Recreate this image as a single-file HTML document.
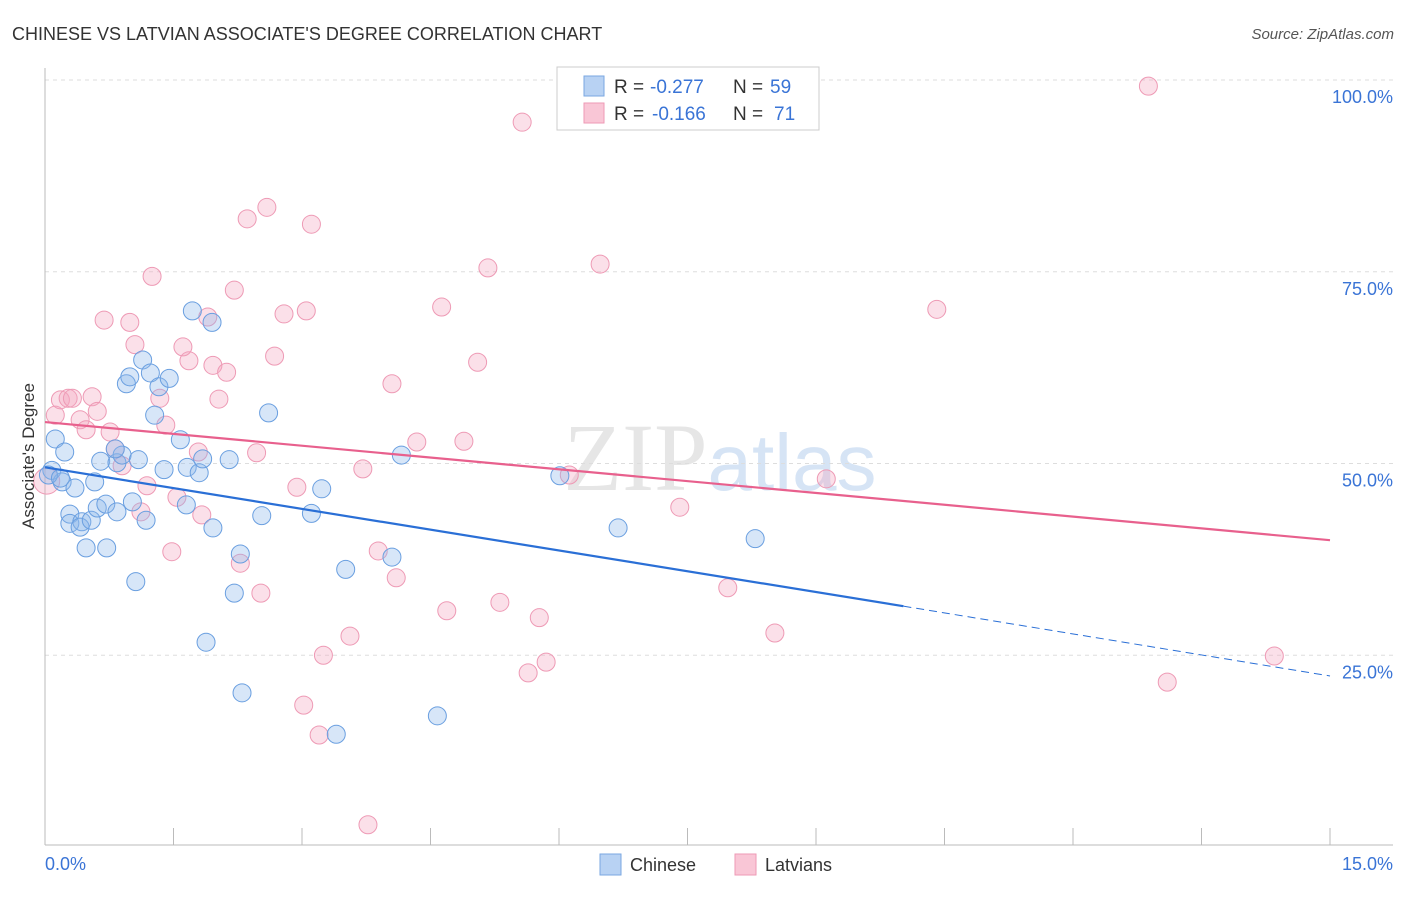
<!DOCTYPE html>
<html><head><meta charset="utf-8"><style>
body{margin:0;background:#fff;font-family:"Liberation Sans",sans-serif}
</style></head><body>
<svg id="chart" width="1406" height="892" xmlns="http://www.w3.org/2000/svg" font-family="Liberation Sans, sans-serif">
<text x="12" y="40" font-size="18" fill="#333">CHINESE VS LATVIAN ASSOCIATE'S DEGREE CORRELATION CHART</text>
<text x="1394" y="39" font-size="15" fill="#555" text-anchor="end" font-style="italic">Source: ZipAtlas.com</text>
<text x="720" y="490" font-size="96" fill="#e6e6e6" text-anchor="middle" font-family="Liberation Serif, serif">ZIP<tspan fill="#d6e4f5" font-family="Liberation Sans, sans-serif" font-size="80">atlas</tspan></text>
<g id="grid"></g>
<g id="axes"></g>
<g id="pts"></g>
<g id="lines"></g>
<text transform="translate(34,456) rotate(-90)" font-size="17" fill="#333" text-anchor="middle">Associate's Degree</text>
<g>
<rect x="557" y="67" width="262" height="63" fill="#fff" stroke="#ccc"/>
<rect x="584" y="76" width="20" height="20" fill="#b8d2f3" stroke="#7aa7e2"/>
<rect x="584" y="103" width="20" height="20" fill="#f9c6d6" stroke="#ee9ab5"/>
<text x="614" y="93" font-size="19" fill="#333">R =</text>
<text x="650" y="93" font-size="19" fill="#3a74d6">-0.277</text>
<text x="733" y="93" font-size="19" fill="#333">N =</text>
<text x="770" y="93" font-size="19" fill="#3a74d6">59</text>
<text x="614" y="120" font-size="19" fill="#333">R =</text>
<text x="652" y="120" font-size="19" fill="#3a74d6">-0.166</text>
<text x="733" y="120" font-size="19" fill="#333">N =</text>
<text x="774" y="120" font-size="19" fill="#3a74d6">71</text>
</g>
<g>
<rect x="600" y="854" width="21" height="21" fill="#b8d2f3" stroke="#7aa7e2"/>
<text x="630" y="871" font-size="18" fill="#333">Chinese</text>
<rect x="735" y="854" width="21" height="21" fill="#f9c6d6" stroke="#ee9ab5"/>
<text x="765" y="871" font-size="18" fill="#333">Latvians</text>
</g>
</svg>
<script>
const yTicks=[25,50,75,100];
const yTickLabels=["25.0%","50.0%","75.0%","100.0%"];
const xTickLabels=["0.0%","15.0%"];
const chineseX=[0.12,0.23,0.08,0.20,0.35,0.58,0.29,0.29,0.43,0.41,0.54,0.61,0.48,0.72,1.06,0.65,0.84,0.90,0.82,1.09,1.02,0.71,0.84,1.18,0.95,0.99,1.14,1.23,1.33,1.45,1.28,1.58,1.39,1.66,1.80,1.84,2.15,1.65,1.96,1.72,1.95,2.61,2.28,2.53,2.21,1.88,2.30,3.11,3.23,3.51,3.40,4.05,4.16,4.58,6.01,6.69,8.29,0.04,0.18];
const chineseY=[53.2,51.5,49.1,47.6,46.8,47.6,43.4,42.2,42.4,41.7,42.6,44.2,39.0,39.0,34.6,50.3,50.1,51.1,51.9,50.5,45.0,44.7,43.7,42.6,60.4,61.3,63.5,61.8,60.0,61.1,56.3,53.1,49.2,49.5,48.8,50.6,50.5,44.6,41.6,69.9,68.4,56.6,38.2,43.2,33.1,26.7,20.1,43.5,46.7,36.2,14.7,37.8,51.1,17.1,48.4,41.6,40.2,48.5,48.1];
const latvianX=[0.02,0.12,0.18,0.27,0.32,0.55,0.61,0.41,0.48,0.76,0.82,0.90,0.69,0.99,1.05,1.25,1.34,1.41,1.19,1.12,1.48,1.54,1.68,1.61,1.79,1.90,1.96,2.03,2.12,2.21,1.83,2.36,2.59,2.47,2.28,2.52,2.79,3.05,3.11,2.68,2.94,3.25,3.02,3.20,3.56,3.71,3.77,3.89,4.10,4.05,4.34,4.63,4.69,4.89,5.05,5.17,5.31,5.57,5.64,5.77,5.85,6.12,6.48,7.41,7.97,8.52,9.12,10.41,12.88,13.10,14.35];
const latvianY=[47.7,56.3,58.3,58.5,58.5,58.7,56.8,55.7,54.4,54.1,51.9,49.7,68.7,68.4,65.5,74.4,58.5,55.0,47.1,43.7,38.5,45.6,63.4,65.2,51.5,69.1,62.8,58.4,61.9,72.6,43.3,81.9,83.4,51.4,37.0,33.1,69.5,69.9,81.2,64.0,46.9,25.0,18.5,14.6,27.5,49.3,2.9,38.6,35.1,60.4,52.8,70.4,30.8,52.9,63.2,75.5,31.9,94.5,22.7,29.9,24.1,48.5,76.0,44.3,33.8,27.9,48.0,70.1,99.2,21.5,24.9];
const chineseTrend=[49.5,31.4,22.3]; // at x=0, 10.02, 15
const latvianTrend=[55.4,40.0]; // at x=0, 15
const NS="http://www.w3.org/2000/svg";
const X=v=>45+v/15*1285, Y=v=>847-v/100*767;
function mk(tag,attrs,parent){const e=document.createElementNS(NS,tag);for(const k in attrs)e.setAttribute(k,attrs[k]);parent.appendChild(e);return e;}
const grid=document.getElementById('grid'),axes=document.getElementById('axes'),pts=document.getElementById('pts'),lines=document.getElementById('lines');
yTicks.forEach((t,i)=>{
 const l=mk('line',{x1:45,x2:1393,y1:Y(t),y2:Y(t),stroke:'#ddd','stroke-dasharray':'4,4'},grid);
 
 
 const tx=mk('text',{x:1393,y:Y(t)+23,'font-size':18,fill:'#3a74d6','text-anchor':'end'},axes);
 tx.textContent=yTickLabels[i];
 
 
});
const ax=mk('line',{x1:45,x2:1393,y1:845,y2:845,stroke:'#bbb'},axes);


const ay=mk('line',{x1:45,x2:45,y1:68,y2:845,stroke:'#bbb'},axes);


for(let i=0;i<=10;i++){const v=i*1.5;const t=mk('line',{x1:X(v),x2:X(v),y1:828,y2:845,stroke:'#bbb'},axes);
 
 }
[[0,'start',45],[15,'end',1393]].forEach((a,i)=>{const t=mk('text',{x:a[2],y:870,'font-size':18,fill:'#3a74d6','text-anchor':a[1]},axes);t.textContent=xTickLabels[i];
 
 });
latvianX.forEach((x,i)=>{const c=mk('circle',{cx:X(x),cy:Y(latvianY[i]),r:i==0?13:9,fill:'rgba(244,165,192,0.35)',stroke:'#ee9ab5','stroke-width':1},pts);
 
 });
chineseX.forEach((x,i)=>{const c=mk('circle',{cx:X(x),cy:Y(chineseY[i]),r:9,fill:'rgba(140,182,236,0.35)',stroke:'#6a9fe0','stroke-width':1},pts);
 
 });
const l1=mk('line',{x1:X(0),y1:Y(chineseTrend[0]),x2:X(10.02),y2:Y(chineseTrend[1]),stroke:'#2a6fd6','stroke-width':2.2},lines);


const l2=mk('line',{x1:X(10.02),y1:Y(chineseTrend[1]),x2:X(15),y2:Y(chineseTrend[2]),stroke:'#2a6fd6','stroke-width':1,'stroke-dasharray':'8,5'},lines);


const l3=mk('line',{x1:X(0),y1:Y(latvianTrend[0]),x2:X(15),y2:Y(latvianTrend[1]),stroke:'#e8608d','stroke-width':2.2},lines);


</script>
</body></html>
